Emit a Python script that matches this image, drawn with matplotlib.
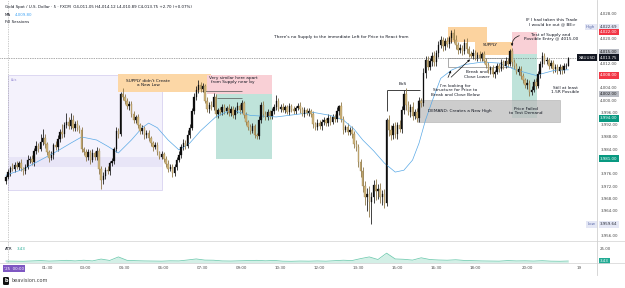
import numpy as np
import matplotlib
matplotlib.use("Agg")
import matplotlib.pyplot as plt
from matplotlib.patches import Rectangle, FancyArrowPatch, FancyBboxPatch
from matplotlib.lines import Line2D
import matplotlib.transforms as mtransforms

plt.rcParams['font.family'] = ['DejaVu Sans']

# ---------------- data ----------------
open0 = 3973.8
closes = [
    3975.0, 3976.5, 3978.0, 3977.6, 3979.0, 3978.4, 3979.4, 3977.8, 3976.9, 3978.2,
    3980.6, 3981.0, 3979.8, 3983.4, 3985.0, 3984.2, 3986.4, 3987.8, 3985.6, 3983.0,
    3981.2, 3982.0, 3985.4, 3984.6, 3987.2, 3989.6, 3988.8, 3991.8, 3993.0, 3991.6,
    3993.4, 3990.8, 3992.2, 3991.0, 3990.2, 3984.2, 3983.0, 3981.4, 3983.2, 3980.6,
    3982.8, 3981.6, 3983.6, 3977.6, 3974.0, 3975.2, 3977.4, 3976.8, 3979.6, 3980.2,
    3984.0, 3990.0, 3989.0, 4002.0, 4001.0, 3999.6, 3998.0, 3998.8, 3995.4, 3993.6,
    3994.4, 3991.8, 3990.0, 3990.8, 3988.6, 3989.4, 3987.6, 3986.0, 3984.8, 3985.4,
    3983.0, 3981.6, 3982.4, 3981.0, 3979.2, 3977.6, 3978.2, 3976.3, 3978.4, 3980.6,
    3982.2, 3984.8, 3986.0, 3985.2, 3988.6, 3991.0, 3996.4, 4001.0, 4003.2, 4005.0,
    4003.6, 4004.4, 3999.8, 3997.0, 3998.4, 3997.6, 4001.0, 3995.4, 3996.6, 3996.0,
    3997.8, 3996.4, 3997.4, 3995.8, 3997.2, 3995.0, 3996.8, 3998.0, 3996.6, 3999.0,
    3995.2, 3992.8, 3991.2, 3990.0, 3991.4, 3988.6, 3988.2, 3993.6, 3998.4, 3995.6,
    3994.4, 3996.0, 3994.8, 3996.4, 3997.8, 3999.6, 3997.2, 3997.8, 3996.8, 3997.6,
    3996.2, 3998.0, 3997.0, 3996.4, 3997.4, 3998.2, 3997.0, 3995.6, 3996.6, 3995.8,
    3996.4, 3995.4, 3992.2, 3991.2, 3992.6, 3991.4, 3992.8, 3993.4, 3992.6, 3994.2,
    3993.0, 3994.6, 3993.8, 3996.4, 3998.0, 3993.8, 3990.4, 3991.2, 3989.6, 3990.4,
    3989.0, 3985.8, 3984.6, 3980.0, 3976.8, 3972.0, 3968.4, 3969.6, 3967.0, 3968.6,
    3972.4, 3970.6, 3971.2, 3968.4, 3969.6, 3966.6, 3993.4, 3990.2, 3988.6, 3991.4,
    3989.0, 3992.0, 3990.6, 3996.8, 4002.0, 3998.4, 3996.0, 3997.6, 3994.8, 3996.2,
    3994.0, 3999.6, 3999.0, 4008.8, 4013.0, 4010.8, 4012.6, 4014.4, 4012.2, 4015.2,
    4018.0, 4019.4, 4017.4, 4019.0, 4018.2, 4020.0, 4021.8, 4019.6, 4017.8, 4016.2,
    4017.0, 4015.8, 4018.6, 4016.4, 4015.0, 4014.4, 4015.2, 4013.8, 4014.6, 4013.6,
    4014.8, 4012.8, 4011.4, 4009.6, 4010.4, 4008.4, 4009.2, 4011.0, 4010.2, 4012.2,
    4011.2, 4012.8, 4011.8, 4016.0, 4012.4, 4011.0, 4009.2, 4010.2, 4007.8, 4006.4,
    4004.8, 4005.6, 4002.6, 4003.4, 4005.8, 4004.6, 4008.4, 4011.6, 4014.2, 4012.6,
    4013.0, 4011.2, 4012.0, 4010.0, 4010.8, 4009.4, 4010.6, 4009.6, 4011.0, 4011.05,
    4013.75,
]
wick_up = [
    0.8, 1.2, 0.6, 1.5, 0.9, 1.1, 0.7, 1.3, 0.5, 1.0,
    1.4, 0.8, 1.2, 1.0, 1.6, 0.9, 2.4, 2.8, 1.0, 0.7,
    0.9, 1.3, 0.8, 1.2, 1.5, 1.0, 2.6, 1.2, 2.9, 1.4,
    2.4, 1.6, 0.9, 1.2, 0.8, 1.0, 0.7, 1.1, 0.9, 0.6,
    1.2, 0.8, 1.0, 0.7, 0.9, 1.4, 0.8, 1.1, 0.6, 1.0,
    0.9, 1.2, 0.8, 0.6, 2.0, 1.0, 1.2, 0.8, 0.9, 1.1,
    0.7, 1.0, 0.8, 1.2, 0.6, 0.9, 1.0, 0.7, 0.8, 1.1,
    0.9, 0.6, 1.0, 0.8, 0.7, 1.2, 0.9, 1.1, 0.8, 1.0,
    1.2, 0.9, 1.4, 1.0, 1.6, 1.3, 1.1, 1.4, 1.2, 1.5,
    1.0, 1.2, 0.8, 1.1, 0.9, 1.4, 1.2, 1.0, 0.8, 1.1,
    0.9, 1.0, 0.8, 1.2, 0.7, 1.0, 0.9, 1.3, 0.8, 1.0,
    0.8, 1.0, 0.7, 0.9, 1.1, 0.8, 0.6, 1.2, 1.0, 1.3,
    0.9, 1.1, 0.8, 1.0, 0.9, 2.0, 1.0, 0.8, 1.1, 0.7,
    0.9, 1.0, 0.8, 1.1, 0.7, 0.9, 1.0, 0.8, 1.2, 0.7,
    0.9, 0.8, 1.0, 0.7, 1.1, 0.8, 0.9, 1.0, 0.8, 1.2,
    0.9, 1.0, 0.8, 1.2, 0.4, 1.4, 1.0, 0.8, 1.2, 0.9,
    1.0, 0.8, 1.1, 1.2, 1.0, 1.4, 1.6, 1.8, 2.4, 1.6,
    1.6, 2.0, 1.4, 1.8, 1.2, 1.5, 0.8, 1.6, 1.8, 1.2,
    1.4, 1.0, 1.6, 1.2, 1.2, 1.8, 1.4, 1.2, 1.6, 1.0,
    1.2, 1.4, 1.0, 1.6, 1.2, 1.4, 1.0, 1.2, 1.6, 1.0,
    1.2, 1.4, 1.0, 1.2, 1.6, 0.9, 0.89, 1.2, 1.4, 1.0,
    1.2, 0.9, 1.1, 1.4, 1.0, 0.8, 1.2, 0.9, 1.0, 1.3,
    0.8, 1.0, 0.9, 1.1, 0.8, 1.0, 0.7, 1.1, 0.9, 1.0,
    0.8, 1.2, 0.9, 0.6, 1.0, 0.8, 1.1, 0.9, 0.8, 1.0,
    0.9, 1.1, 0.8, 1.0, 0.9, 1.2, 1.0, 1.1, 1.3, 0.9,
    1.0, 0.8, 1.1, 0.9, 1.0, 0.8, 1.2, 0.9, 1.1, 0.9,
    0.37,
]
wick_dn = [
    1.0, 0.8, 1.3, 0.7, 1.1, 0.9, 1.2, 0.8, 1.4, 0.9,
    0.7, 1.1, 0.9, 1.2, 0.8, 1.0, 0.7, 0.9, 1.2, 1.0,
    1.3, 0.8, 1.1, 0.9, 1.0, 0.7, 1.2, 0.9, 0.8, 1.1,
    0.9, 1.0, 0.8, 1.2, 0.9, 1.0, 0.8, 1.1, 0.9, 1.3,
    0.8, 1.0, 1.2, 1.6, 3.0, 1.4, 1.0, 0.8, 1.1, 0.9,
    1.0, 0.8, 1.2, 0.6, 0.9, 1.0, 0.8, 1.1, 0.9, 1.0,
    1.2, 0.8, 1.0, 0.9, 1.1, 0.8, 1.0, 0.9, 1.2, 0.8,
    1.0, 0.9, 0.8, 1.1, 0.9, 1.0, 0.8, 1.3, 0.9, 1.0,
    0.8, 1.0, 0.9, 1.2, 0.8, 1.0, 0.9, 0.8, 1.1, 1.0,
    0.9, 1.1, 0.8, 1.0, 1.2, 0.9, 1.0, 0.8, 1.1, 0.9,
    1.0, 0.8, 1.1, 0.9, 1.0, 0.8, 1.2, 0.9, 1.0, 0.8,
    1.1, 0.9, 1.0, 1.2, 0.8, 1.0, 0.8, 0.9, 1.1, 1.0,
    0.8, 1.0, 0.9, 1.1, 0.8, 1.0, 0.9, 1.2, 0.8, 1.0,
    0.9, 1.1, 0.8, 1.0, 0.9, 0.8, 1.1, 0.9, 1.0, 0.8,
    1.0, 0.9, 1.2, 0.8, 1.0, 0.9, 1.1, 0.8, 1.0, 0.9,
    1.1, 0.8, 1.0, 0.9, 1.2, 1.0, 1.4, 0.9, 1.1, 1.0,
    1.2, 1.4, 1.1, 1.6, 1.8, 2.0, 2.4, 4.6, 5.0, 7.36,
    2.2, 3.0, 2.6, 2.0, 2.4, 1.6, 1.0, 2.0, 1.6, 1.4,
    1.2, 1.6, 1.0, 1.4, 1.2, 1.6, 1.0, 1.4, 1.2, 1.0,
    1.0, 1.2, 1.4, 1.0, 1.6, 1.2, 1.0, 1.4, 1.2, 1.0,
    1.2, 1.0, 1.4, 1.2, 1.0, 1.2, 1.4, 1.0, 1.2, 1.4,
    1.0, 1.2, 0.9, 1.1, 1.0, 0.8, 1.2, 0.9, 1.0, 0.8,
    1.0, 0.9, 1.1, 0.8, 1.0, 0.9, 1.2, 0.8, 1.0, 0.9,
    1.1, 0.8, 1.0, 0.9, 1.2, 1.0, 0.8, 1.1, 0.9, 1.0,
    0.9, 1.1, 1.2, 1.0, 0.9, 1.0, 0.8, 1.1, 0.9, 1.0,
    0.8, 1.0, 0.9, 1.1, 0.8, 1.0, 0.9, 1.2, 0.8, 1.0,
    0.16,
]
ma_idx = [0, 8, 16, 24, 30, 35, 42, 47, 52, 58, 63, 66, 70, 75, 80, 85, 90, 97, 104,
          113, 125, 142, 150, 156, 161, 165, 170, 175, 180, 184, 188, 191, 194, 197,
          201, 206, 212, 220, 228, 236, 245, 254, 260]
ma_val = [3975.6, 3977.5, 3980.5, 3983.5, 3986.0, 3988.0, 3987.0, 3985.0, 3982.8,
          3987.0, 3991.0, 3992.5, 3991.0, 3987.0, 3983.8, 3986.0, 3990.0, 3994.5,
          3996.8, 3995.0, 3994.5, 3996.0, 3995.0, 3993.5, 3990.5, 3987.0, 3983.5,
          3979.5, 3976.6, 3977.2, 3980.5, 3986.0, 3993.5, 3999.5, 4007.0, 4009.7,
          4011.5, 4012.3, 4012.0, 4009.7, 4008.0, 4009.7, 4009.8]
atr_step = 4
atr_val = [3.4, 3.2, 3.0, 3.6, 4.2, 3.4, 3.8, 4.6, 3.6, 4.8,
           3.6, 6.8, 4.4, 10.5, 4.6, 4.0, 3.6, 3.4, 3.2, 3.8,
           3.6, 5.2, 7.0, 5.0, 4.8, 3.6, 3.4, 3.8, 4.2, 4.6,
           3.8, 4.4, 3.2, 3.0, 3.4, 3.2, 3.6, 3.2, 4.0, 4.8,
           4.2, 7.6, 10.5, 6.0, 17.0, 7.0, 6.4, 5.0, 9.0, 6.0,
           5.2, 4.8, 5.6, 4.4, 4.0, 3.6, 3.4, 3.2, 4.2, 3.6,
           3.8, 3.4, 4.0, 3.2, 3.0, 3.43]
time_tick_idx = [19, 37, 55, 73, 91, 109, 127, 145, 163, 181, 199, 217, 241, 265]
time_tick_lbl = ['01:30', '03:00', '04:30', '06:00', '07:30', '09:00', '10:30',
                 '12:00', '13:30', '15:00', '16:30', '18:00', '20:00', '19']
price_ticks = [4028, 4020, 4012, 4004, 4000, 3996, 3992, 3988, 3984, 3976, 3972,
               3968, 3964, 3956]

# ---------------- figure / layout ----------------
W, H = 625, 288
fig = plt.figure(figsize=(W / 100, H / 100), dpi=100)
fig.patch.set_facecolor('white')


def fx(px):
    return px / W


def fy(py):
    return 1 - py / H


CH_R = 597
ax = fig.add_axes([0, fy(241), fx(CH_R), 241 / H])
axa = fig.add_axes([0, fy(263), fx(CH_R), 22 / H])
X0, SX = 5.9, 2.163
for a in (ax, axa):
    a.set_xlim((0 - X0) / SX, (CH_R - X0) / SX)
    for s in a.spines.values():
        s.set_visible(False)
    a.set_facecolor('none')
ax.set_ylim(3954.22, 4032.47)
axa.set_ylim(0, 38)

FS = 2.9
NFS = 3.1
DARK = '#131722'
AXC = '#4a4a4a'

ax.set_xticks([])
ax.yaxis.tick_right()
ax.set_yticks(price_ticks)
ax.set_yticklabels([f"{v:,.2f}" for v in price_ticks])
ax.tick_params(axis='y', length=0, pad=2.3, labelsize=FS, labelcolor=AXC)

axa.yaxis.tick_right()
axa.set_yticks([25])
axa.set_yticklabels(['25.00'])
axa.tick_params(axis='y', length=0, pad=2.3, labelsize=FS, labelcolor=AXC)
axa.set_xticks(time_tick_idx)
axa.set_xticklabels(time_tick_lbl)
axa.tick_params(axis='x', length=0, pad=2.2, labelsize=FS, labelcolor=AXC)

# separators
fig.add_artist(Line2D([0, 1], [fy(241)] * 2, color='#d9d9d9', lw=0.6))
fig.add_artist(Line2D([0, 1], [fy(263)] * 2, color='#d9d9d9', lw=0.6))
fig.add_artist(Line2D([fx(CH_R)] * 2, [fy(0), fy(275)], color='#d0d0d0', lw=0.6))

# ---------------- drawings (boxes) ----------------
def box(x0, x1, p0, p1, fc, ec='none', alpha=1.0, z=1, lw=0.4, fill=True):
    ax.add_patch(Rectangle((x0, p0), x1 - x0, p1 - p0, facecolor=fc if fill else 'none',
                           edgecolor=ec, alpha=alpha, zorder=z, lw=lw))

box(1.0, 72.2, 3970.8, 4008.1, '#f4f2fc', ec='#c7c0ea', z=0.5)
box(1.0, 72.2, 3978.2, 3981.5, '#e8e5f7', z=0.6)
ax.text(2.5, 4007.3, 'Asia', fontsize=2.2, color='#9c92d6', va='top', ha='left', zorder=1)

box(51.8, 95.0, 4002.7, 4008.4, '#fcd7a6', z=1)
box(93.0, 123.0, 4002.0, 4008.0, '#f9d0d6', z=1.1)
box(97.0, 123.0, 3981.0, 4002.0, '#bfe3da', z=1.1)
box(204.4, 222.4, 4018.8, 4023.7, '#fcd39f', z=1)
box(216.9, 234.0, 4014.6, 4018.8, '#fcd39f', z=1)
box(234.0, 245.5, 4015.0, 4022.0, '#f9d0d6', z=1.1)
box(234.0, 245.5, 3994.0, 4015.0, '#bfe3da', z=1.1)
box(190.5, 256.2, 3992.8, 4000.0, '#bdbdbd', ec='#9a9a9a', alpha=0.75, z=1.2)
box(204.4, 234.0, 4010.7, 4013.6, 'none', ec='#8a8a8a', z=2.5, lw=0.5, fill=False)

# structure lines
ax.hlines(4002.9, 90.7, 109.2, color='#555555', lw=0.5, zorder=2.5)
ax.hlines(4000.6, 97.6, 109.2, color='#555555', lw=0.5, zorder=2.5)
ax.hlines(4003.2, 176.2, 191.5, color='#222222', lw=0.6, zorder=2.5)
ax.vlines(176.2, 3996.5, 4003.2, color='#222222', lw=0.6, zorder=2.5)

# price line and crosshair
ax.axhline(4013.75, ls=(0, (1, 1.5)), color='#555555', lw=0.5, zorder=2)
for a in (ax, axa):
    a.axvline(1.0, ls=(0, (1, 1.5)), color='#9a9a9a', lw=0.5, zorder=2)

# ---------------- candles ----------------
c = np.array(closes)
o = np.concatenate([[open0], c[:-1]])
hi = np.maximum(o, c) + np.array(wick_up)
lo = np.minimum(o, c) - np.array(wick_dn)
idx = np.arange(len(c))
up = c >= o
wcol = np.where(up, '#222222', '#8f7848')
ax.vlines(idx, lo, hi, colors=wcol, lw=0.6, zorder=3)
body_lo = np.minimum(o, c)
body_h = np.maximum(np.abs(c - o), 0.2)
ax.bar(idx[up], body_h[up], bottom=body_lo[up], width=0.65, color='#0d0d0d',
       edgecolor='#0d0d0d', lw=0.2, zorder=4)
ax.bar(idx[~up], body_h[~up], bottom=body_lo[~up], width=0.65, color='#cdb27a',
       edgecolor='#9c8450', lw=0.25, zorder=4)

# MA
ax.plot(ma_idx, ma_val, color='#5aa9e6', lw=0.5, zorder=3.5)

# ATR
atr_x = np.arange(0, len(c), atr_step)
axa.fill_between(atr_x, 0, atr_val, color='#d3efe6', lw=0, zorder=1)
axa.plot(atr_x, atr_val, color='#6cc9ad', lw=0.55, zorder=2)

# ---------------- annotations ----------------
notes = [
    (154.9, 4020.45, "There's no Supply to the immediate Left for Price to React from"),
    (65.7, 4005.5, "SUPPLY didn't Create\na New Low"),
    (105.0, 4006.5, "Very similar here apart\nfrom Supply near by"),
    (183.6, 4005.3, "BoS"),
    (207.6, 4003.1, "I'm looking for\nStructure for Price to\nBreak and Close Below"),
    (217.8, 4008.3, "Break and\nClose Lower"),
    (223.8, 4017.9, "SUPPLY"),
    (252.5, 4025.3, "IF I had taken this Trade\nI would be out @ BE>"),
    (252.0, 4020.4, "Test of Supply and\nPossible Entry @ 4015.00"),
    (258.5, 4003.3, "Still at least\n1.5R Possible"),
    (210.0, 3996.4, "DEMAND: Creates a New High"),
    (240.5, 3996.4, "Price Failed\nto Test Demand"),
]
for nx, ny, t in notes:
    ax.text(nx, ny, t, fontsize=NFS, color=DARK, ha='center', va='center',
            linespacing=1.2, zorder=6)

arrows = [
    ((203.9, 4006.5), (206.3, 4010.4), 0.0),
    ((204.9, 4006.8), (215.5, 4013.8), 0.0),
    ((238.6, 4021.1), (234.2, 4016.6), 0.5),
]
for (sx, sy), (ex, ey), rad in arrows:
    ax.add_patch(FancyArrowPatch((sx, sy), (ex, ey), arrowstyle='-|>', mutation_scale=3,
                                 lw=0.5, color='#111111', zorder=6,
                                 connectionstyle=f'arc3,rad={rad}'))

# ---------------- right-axis tags ----------------
tr = mtransforms.blended_transform_factory(ax.transAxes, ax.transData)
tags = [
    (4023.7, '4,022.69', '#e4e7f5', '#2a2e39'),
    (4022.0, '4,022.00', '#f23645', 'white'),
    (4015.5, '4,015.00', '#b9bcc4', '#1e1e1e'),
    (4013.75, '4,013.75', '#131722', 'white'),
    (4008.0, '4,008.00', '#f23645', 'white'),
    (4002.0, '4,002.00', '#b9bcc4', '#1e1e1e'),
    (3994.0, '3,994.00', '#089981', 'white'),
    (3981.0, '3,981.00', '#089981', 'white'),
    (3959.64, '3,959.64', '#e4e7f5', '#2a2e39'),
]
for p, t, fc, tc in tags:
    ax.text(600 / CH_R, p, t, transform=tr, fontsize=FS, color=tc, ha='left', va='center',
            bbox=dict(boxstyle='square,pad=0.3', fc=fc, ec='none'), zorder=10, clip_on=False)
side_tags = [
    (4023.7, 'High', '#e4e7f5', '#5b6aa8'),
    (4013.75, 'XAUUSD', '#131722', 'white'),
    (3959.64, 'Low', '#e4e7f5', '#5b6aa8'),
]
for p, t, fc, tc in side_tags:
    ax.text(595.5 / CH_R, p, t, transform=tr, fontsize=FS, color=tc, ha='right', va='center',
            bbox=dict(boxstyle='square,pad=0.3', fc=fc, ec='none'), zorder=10, clip_on=False)

tra = mtransforms.blended_transform_factory(axa.transAxes, axa.transData)
axa.text(600 / CH_R, 3.43, '3.43', transform=tra, fontsize=FS, color='white', ha='left',
         va='center', bbox=dict(boxstyle='square,pad=0.3', fc='#22ab94', ec='none'),
         zorder=10, clip_on=False)

# ---------------- header / legends ----------------
fig.text(fx(5), fy(7), "Gold Spot / U.S. Dollar · 5 · FXCM  O4,011.05 H4,014.12 L4,010.89 "
         "C4,013.75 +2.70 (+0.07%)", fontsize=FS, color=DARK, va='center', ha='left')
fig.text(fx(5), fy(15), "MA", fontsize=FS, color=DARK, va='center', ha='left')
fig.text(fx(15), fy(15), "4,009.80", fontsize=FS, color='#42a5f5', va='center', ha='left')
fig.text(fx(5), fy(22), "Fill Sessions", fontsize=FS, color=DARK, va='center', ha='left')
fig.text(fx(5), fy(249), "ATR", fontsize=FS, color=DARK, va='center', ha='left')
fig.text(fx(17), fy(249), "3.43", fontsize=FS, color='#22ab94', va='center', ha='left')

fig.text(fx(4), fy(268.5), "'25  00:00", fontsize=FS, color='white',
         va='center', ha='left',
         bbox=dict(boxstyle='square,pad=0.35', fc='#7e57c2', ec='none'))

# footer logo
fig.add_artist(FancyBboxPatch((fx(3), fy(285)), fx(6), 8 / H,
                              boxstyle='round,pad=0,rounding_size=0.003',
                              fc='#111111', ec='none', transform=fig.transFigure))
fig.text(fx(6), fy(281), "b", fontsize=3.6, color='white', ha='center', va='center',
         fontweight='bold')
fig.text(fx(12), fy(281), "beavision.com", fontsize=3.6, color='#444444', ha='left',
         va='center')

fig.savefig('out.png', dpi=100, facecolor='white')
